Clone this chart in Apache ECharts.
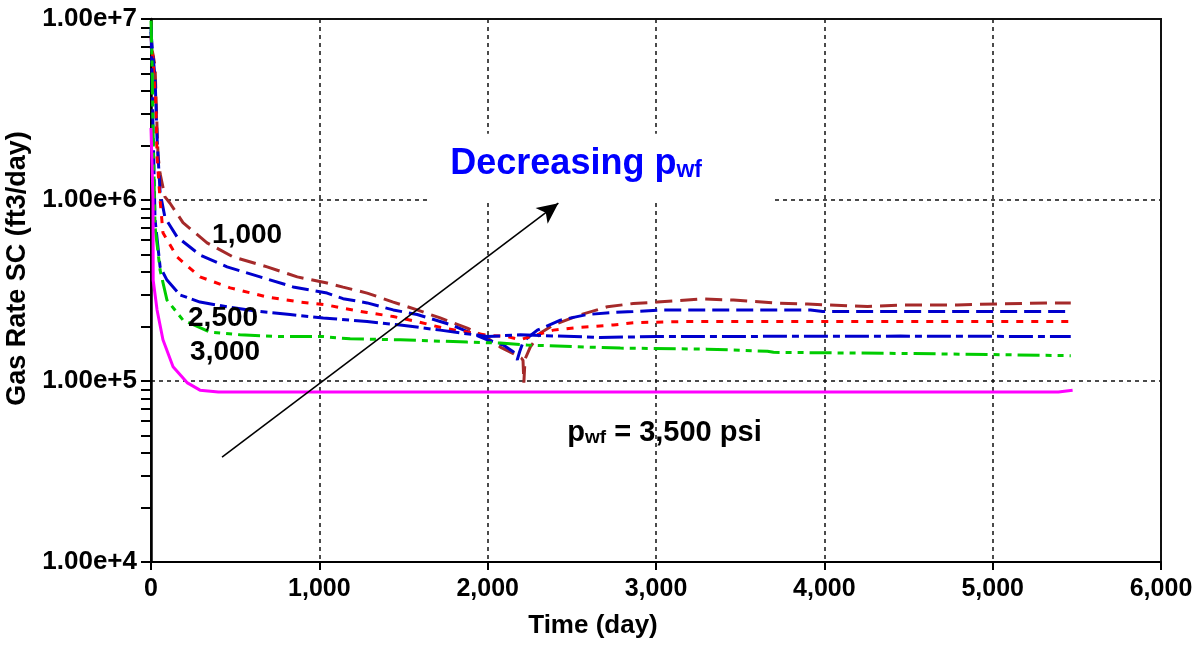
<!DOCTYPE html>
<html>
<head>
<meta charset="utf-8">
<script src="https://cdn.jsdelivr.net/npm/echarts@6/dist/echarts.min.js"></script>
<style>
  html, body { margin: 0; padding: 0; background: #fff; }
  #chart { width: 1202px; height: 647px; }
</style>
</head>
<body>
<div id="chart"></div>
<script>
// Gas rate vs. time for several bottom-hole flowing pressures (psi)
const xTickLabels = ['0', '1,000', '2,000', '3,000', '4,000', '5,000', '6,000'];
const yTickLabels = ['1.00e+4', '1.00e+5', '1.00e+6', '1.00e+7'];

// p_wf = 1,000 psi
const t1000 = [0, 10, 24, 36, 42, 54, 83, 113, 190, 333, 487, 690, 869, 1046, 1141, 1284, 1439, 1581, 1718, 1879, 1998, 2075, 2150, 2200, 2210, 2215, 2222, 2253, 2313, 2390, 2550, 2711, 2865, 3008, 3264, 3460, 3698, 3900, 4257, 4453, 4790, 4800, 5050, 5362, 5464];
const q1000 = [7.0e6, 6.5e6, 5.5e6, 2.5e6, 1.75e6, 1.4e6, 1.04e6, 9.6e5, 7.5e5, 5.8e5, 4.85e5, 4.27e5, 3.76e5, 3.48e5, 3.30e5, 3.06e5, 2.73e5, 2.47e5, 2.23e5, 1.96e5, 1.73e5, 1.54e5, 1.42e5, 1.34e5, 1.30e5, 9.8e4, 1.32e5, 1.54e5, 1.84e5, 2.04e5, 2.32e5, 2.57e5, 2.68e5, 2.73e5, 2.84e5, 2.80e5, 2.70e5, 2.66e5, 2.58e5, 2.63e5, 2.63e5, 2.66e5, 2.67e5, 2.70e5, 2.70e5];

// p_wf = 1,500 psi
const t1500 = [0, 10, 24, 36, 54, 83, 155, 291, 452, 648, 844, 1046, 1141, 1284, 1439, 1581, 1778, 1998, 2093, 2152, 2176, 2190, 2212, 2295, 2432, 2592, 2747, 2865, 3040, 3460, 3918, 3990, 4453, 5047, 5464];
const q1500 = [8.5e6, 6.5e6, 4.8e6, 2.2e6, 1.1e6, 8.0e5, 6.25e5, 4.97e5, 4.27e5, 3.76e5, 3.31e5, 3.06e5, 2.85e5, 2.70e5, 2.47e5, 2.33e5, 2.05e5, 1.69e5, 1.58e5, 1.45e5, 1.31e5, 1.45e5, 1.66e5, 1.91e5, 2.17e5, 2.33e5, 2.39e5, 2.42e5, 2.47e5, 2.47e5, 2.47e5, 2.42e5, 2.42e5, 2.42e5, 2.42e5];

// p_wf = 2,000 psi
const t2000 = [0, 12, 30, 36, 54, 71, 155, 291, 470, 690, 886, 1046, 1141, 1284, 1439, 1581, 1736, 1998, 2116, 2194, 2253, 2390, 2550, 2747, 2865, 3163, 4000, 5000, 5464];
const q2000 = [8.0e6, 6.0e6, 3.1e6, 1.73e6, 1.0e6, 6.6e5, 4.84e5, 3.76e5, 3.27e5, 2.91e5, 2.73e5, 2.63e5, 2.52e5, 2.39e5, 2.27e5, 2.13e5, 1.96e5, 1.79e5, 1.76e5, 1.69e5, 1.76e5, 1.91e5, 1.98e5, 2.04e5, 2.10e5, 2.13e5, 2.13e5, 2.13e5, 2.13e5];

// p_wf = 2,500 psi
const t2500 = [0, 6, 12, 24, 54, 95, 172, 291, 452, 630, 826, 1023, 1082, 1284, 1480, 1718, 1998, 2194, 2669, 3008, 4453, 5464];
const q2500 = [9.0e6, 5.0e6, 2.5e6, 7.8e5, 4.27e5, 3.61e5, 2.99e5, 2.73e5, 2.57e5, 2.43e5, 2.33e5, 2.23e5, 2.21e5, 2.13e5, 2.04e5, 1.91e5, 1.76e5, 1.80e5, 1.74e5, 1.76e5, 1.77e5, 1.76e5];

// p_wf = 3,000 psi
const t3000 = [0, 6, 12, 24, 54, 95, 190, 351, 529, 767, 1023, 1183, 1480, 1879, 2075, 2235, 2592, 2788, 3300, 3662, 3698, 4453, 5006, 5464];
const q3000 = [9.8e6, 6.0e6, 2.5e6, 7.1e5, 4.1e5, 2.80e5, 2.17e5, 1.86e5, 1.80e5, 1.76e5, 1.76e5, 1.71e5, 1.69e5, 1.64e5, 1.62e5, 1.58e5, 1.54e5, 1.52e5, 1.50e5, 1.46e5, 1.44e5, 1.42e5, 1.40e5, 1.38e5];

// p_wf = 3,500 psi
const t3500 = [0, 6, 12, 13, 36, 71, 131, 214, 291, 400, 1000, 2000, 3000, 4000, 5000, 5390, 5400, 5475];
const q3500 = [2.5e6, 1.6e6, 1.0e6, 3.6e5, 2.47e5, 1.69e5, 1.20e5, 9.8e4, 8.9e4, 8.7e4, 8.7e4, 8.7e4, 8.7e4, 8.7e4, 8.7e4, 8.7e4, 8.9e4, 8.9e4];

const FONT = '"Liberation Sans", Arial, Helvetica, sans-serif';
const pairs = (t, q) => t.map((v, i) => [v, q[i]]);

function curve(name, t, q, color, dash, width) {
  return {
    name, type: 'line', data: pairs(t, q), showSymbol: false, symbol: 'none',
    smooth: false, clip: true,
    lineStyle: { color, width, type: dash, cap: 'butt' }
  };
}

const series = [
  curve('1,000', t1000, q1000, '#A52A2A', [17, 8], 3),
  curve('1,500', t1500, q1500, '#0000CD', [17, 7], 3),
  curve('2,000', t2000, q2000, '#FF0000', [7, 8], 3),
  curve('2,500', t2500, q2500, '#0000CD', [24, 5, 7, 5], 3),
  curve('3,000', t3000, q3000, '#00CC00', [22, 6, 6, 6, 6, 6], 3),
  curve('3,500', t3500, q3500, '#FF00FF', 'solid', 3)
];
// Arrow pointing toward lower flowing pressure
series[5].markLine = {
  silent: true, symbol: ['none', 'arrow'], symbolSize: [15, 21],
  label: { show: false },
  lineStyle: { color: '#000', width: 1.6, type: 'solid' },
  data: [[{ coord: [422, 3.8e4] }, { coord: [2420, 9.6e5] }]]
};

const minorTicks = [];
for (let e = 4; e <= 7; e++) {
  for (let m = 1; m <= 9; m++) {
    const v = m * Math.pow(10, e);
    if (v <= 1e7) minorTicks.push(v);
  }
}

const axisText = { fontFamily: FONT, fontWeight: 'bold', color: '#000' };
const gridLine = { show: true, lineStyle: { color: '#111', width: 1.5, type: [4, 4] } };

const option = {
  animation: false,
  backgroundColor: '#fff',
  grid: {
    left: 151, right: 41, top: 19, bottom: 85, containLabel: false, outerBoundsMode: 'none',
    show: true, borderColor: '#111', borderWidth: 2, backgroundColor: 'transparent'
  },
  xAxis: {
    type: 'value', min: 0, max: 6000, interval: 1000,
    name: 'Time (day)', nameLocation: 'middle', nameGap: 51,
    nameTextStyle: Object.assign({ fontSize: 26, padding: [0, 126, 0, 0] }, axisText),
    axisLine: { onZero: false, lineStyle: { color: '#000', width: 2 } },
    axisTick: { show: true, inside: false, length: 8, lineStyle: { color: '#000', width: 2 } },
    axisLabel: Object.assign({ fontSize: 25, margin: 15, formatter: v => xTickLabels[Math.round(v / 1000)] }, axisText),
    splitLine: gridLine
  },
  yAxis: [{
    type: 'log', logBase: 10, min: 1e4, max: 1e7,
    name: 'Gas Rate SC (ft3/day)', nameLocation: 'middle', nameGap: 117,
    nameTextStyle: Object.assign({ fontSize: 27, padding: [0, 0, 0, 44] }, axisText),
    axisLine: { onZero: false, lineStyle: { color: '#000', width: 2.5 } },
    axisTick: { show: true, inside: false, length: 10, lineStyle: { color: '#000', width: 2 } },
    axisLabel: Object.assign({ fontSize: 26, margin: 14, formatter: v => yTickLabels[Math.round(Math.log10(v)) - 4] }, axisText),
    splitLine: gridLine
  }, {
    type: 'log', logBase: 10, min: 1e4, max: 1e7, position: 'left',
    axisLine: { show: false },
    axisTick: { show: true, inside: false, length: 10, customValues: minorTicks, lineStyle: { color: '#000', width: 2 } },
    axisLabel: { show: false },
    splitLine: { show: false }
  }],
  series
};

const chart = echarts.init(document.getElementById('chart'), null, { renderer: 'canvas' });
chart.setOption(option);

// Annotations placed at data positions
const px = (t, q) => chart.convertToPixel({ gridIndex: 0 }, [t, q]);
const boxA = px(1647, 2.32e6), boxB = px(3692, 9.86e5);
const lbl = (text, t, q) => {
  const p = px(t, q);
  return { type: 'text', x: p[0], y: p[1], z: 10,
    style: { text, fontFamily: FONT, fontWeight: 'bold', fontSize: 28, fill: '#000', verticalAlign: 'middle', align: 'left' } };
};
const decPos = px(1778, 2.15e6);
const pwfPos = px(2473, 5.36e4);
chart.setOption({
  graphic: [
    { type: 'rect', z: 1, shape: { x: boxA[0], y: boxA[1], width: boxB[0] - boxA[0], height: boxB[1] - boxA[1] }, style: { fill: '#fff' } },
    lbl('1,000', 363, 6.41e5),
    lbl('2,500', 220, 2.23e5),
    lbl('3,000', 232, 1.45e5),
    { type: 'text', z: 10, x: decPos[0], y: decPos[1],
      style: {
        text: '{a|Decreasing p}{b|wf}',
        rich: {
          a: { fontFamily: FONT, fontWeight: 'bold', fontSize: 36, fill: '#0000FF', lineHeight: 42, verticalAlign: 'bottom' },
          b: { fontFamily: FONT, fontWeight: 'bold', fontSize: 23, fill: '#0000FF', lineHeight: 14, verticalAlign: 'bottom' }
        },
        verticalAlign: 'top', align: 'left'
      } },
    { type: 'text', z: 10, x: pwfPos[0], y: pwfPos[1],
      style: {
        text: '{a|p}{b|wf}{a| = 3,500 psi}',
        rich: {
          a: { fontFamily: FONT, fontWeight: 'bold', fontSize: 29, fill: '#000', lineHeight: 34, verticalAlign: 'bottom' },
          b: { fontFamily: FONT, fontWeight: 'bold', fontSize: 19, fill: '#000', lineHeight: 12, verticalAlign: 'bottom' }
        },
        verticalAlign: 'middle', align: 'left'
      } }
  ]
});
</script>
</body>
</html>
